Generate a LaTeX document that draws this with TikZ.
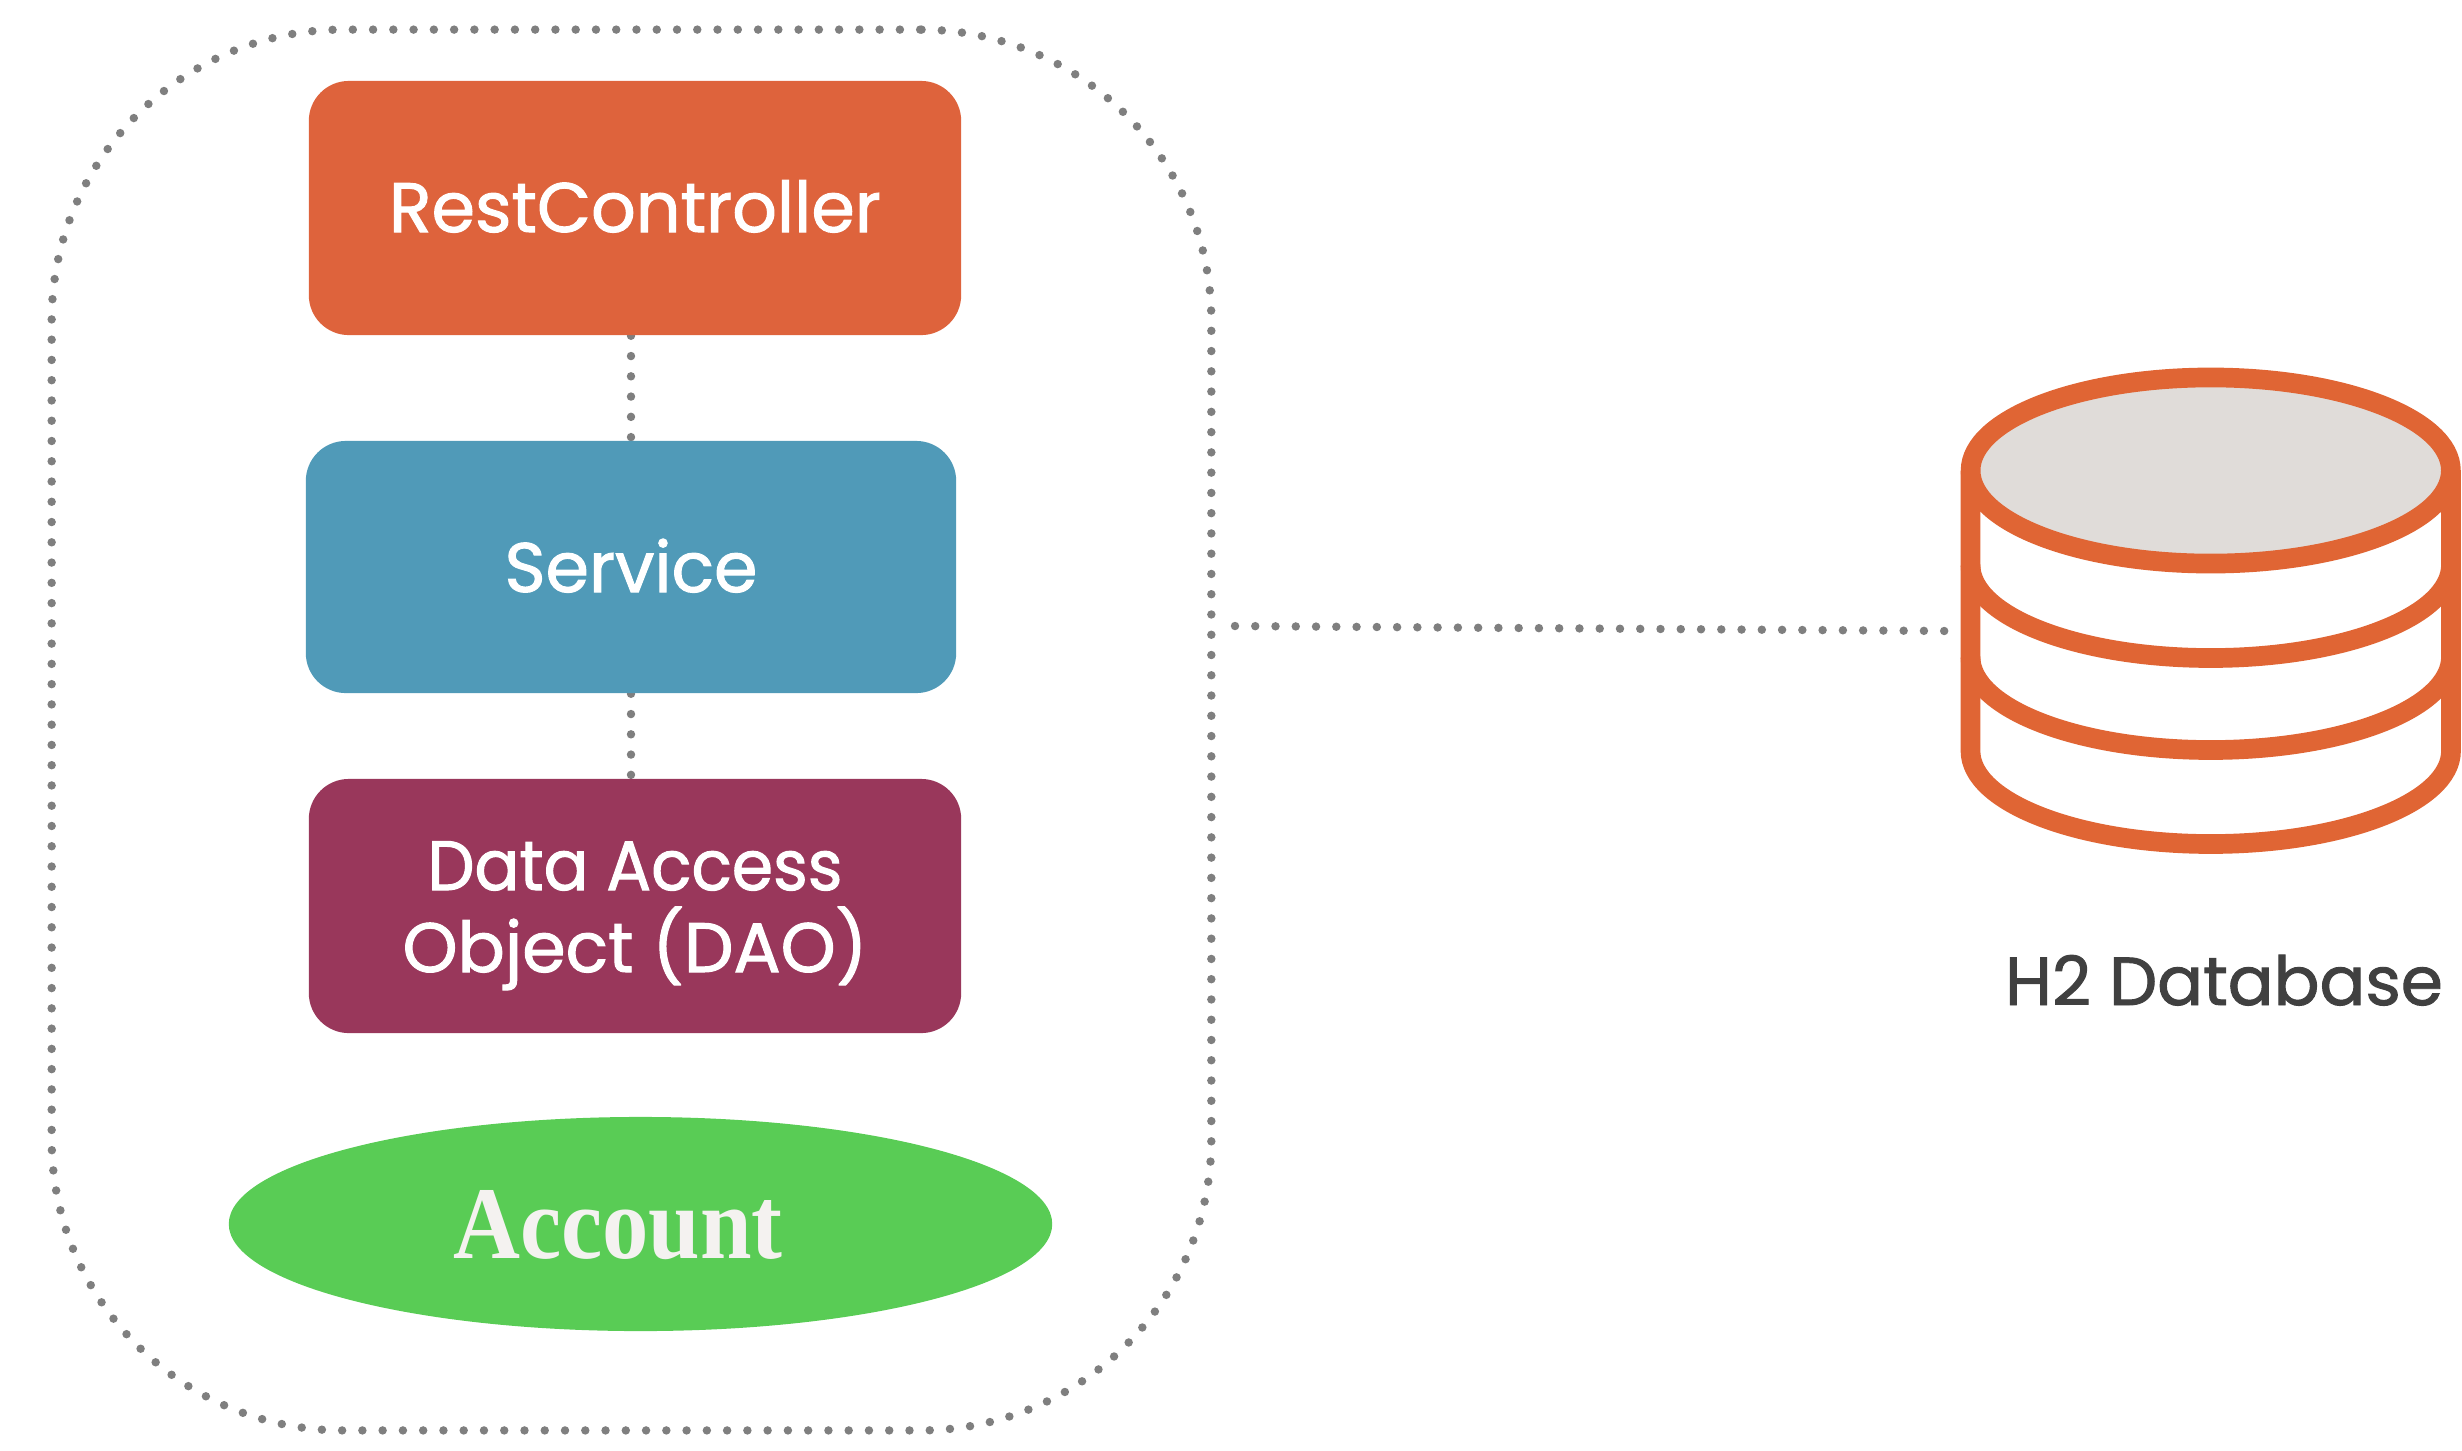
\documentclass[tikz,border=0pt]{standalone}
\usepackage{fontspec}
\setmainfont[FakeBold=1.4]{Poppins}
\newfontfamily\accfont[BoldFeatures={FakeStretch=0.9}]{Liberation Serif}
\usetikzlibrary{shapes.geometric,backgrounds}
\definecolor{dotgray}{HTML}{7F7F7F}
\definecolor{rcorange}{HTML}{DE633C}
\definecolor{svblue}{HTML}{509AB8}
\definecolor{daopurple}{HTML}{99375B}
\definecolor{entgreen}{HTML}{59CC55}
\definecolor{dborange}{HTML}{E06534}
\definecolor{dbgray}{HTML}{E0DCD9}
\definecolor{dbtext}{HTML}{404040}
\definecolor{accwhite}{HTML}{F4F2F0}
\tikzset{
  dotline/.style={draw=dotgray,line width=2.4pt,line cap=round,dash pattern=on 0pt off 5.762pt},
  layerbox/.style={rectangle,rounded corners=.40cm,inner sep=0pt},
  boxtext/.style={anchor=base,inner sep=0pt,text=white,align=center,font=\fontsize{19.9pt}{23.3pt}\selectfont},
  dbline/.style={draw=dborange,line width=5.6pt},
}
\begin{document}
\begin{tikzpicture}[x=0.01cm,y=-0.01cm]
\useasboundingbox (0,0) rectangle (2462,1450);
\node[dotline,rectangle,rounded corners=2.91cm,minimum width=11.59cm,minimum height=14cm,inner sep=0pt] (outer) at (631.5,730) {};
\node[layerbox,fill=rcorange,minimum width=6.52cm,minimum height=2.54cm] (rc) at (635,208) {};
\node[boxtext] (rclabel) at (635,232) {RestController};
\node[layerbox,fill=svblue,minimum width=6.50cm,minimum height=2.52cm] (sv) at (631,567) {};
\node[boxtext] (svlabel) at (631,592) {Service};
\node[layerbox,fill=daopurple,minimum width=6.52cm,minimum height=2.54cm] (dao) at (635,906) {};
\node[boxtext] (daolabel) at (635,972) {{\addfontfeature{FakeStretch=0.95}Data Access}\\Object (DAO)};
\node[ellipse,fill=entgreen,minimum width=8.23cm,minimum height=2.14cm,inner sep=0pt] (acc) at (640.5,1224) {};
\node[anchor=base,inner sep=0pt,text=accwhite,font=\accfont\bfseries\fontsize{29.3pt}{30pt}\selectfont] (acclabel) at (618,1258) {Account};
\begin{scope}[on background layer]
\draw[dotline] (sv.north |- rc.south) -- (sv.north);
\draw[dotline] (sv.south) -- (sv.south |- dao.north);
\end{scope}
% database
\draw[dbline,fill=white] (1970.5,470.5) -- (1970.5,751) arc[start angle=180,end angle=0,x radius=240.25,y radius=93] -- (2451,470.5);
\draw[dbline] (1970.5,565) arc[start angle=180,end angle=0,x radius=240.25,y radius=93];
\draw[dbline] (1970.5,657) arc[start angle=180,end angle=0,x radius=240.25,y radius=93];
\node[ellipse,dbline,fill=dbgray,minimum width=4.8cm,minimum height=1.86cm,inner sep=0pt,outer sep=0pt] (db) at (2210.75,470.5) {};
\coordinate (linkstart) at (1235,626);
\coordinate (linkend) at (1947,631);
\draw[dotline] (linkstart) -- (linkend);
\node[anchor=base,inner sep=0pt,text=dbtext,font=\fontsize{19.3pt}{23pt}\selectfont] (dblabel) at (2224,1005) {H2 Database};
\end{tikzpicture}
\end{document}
